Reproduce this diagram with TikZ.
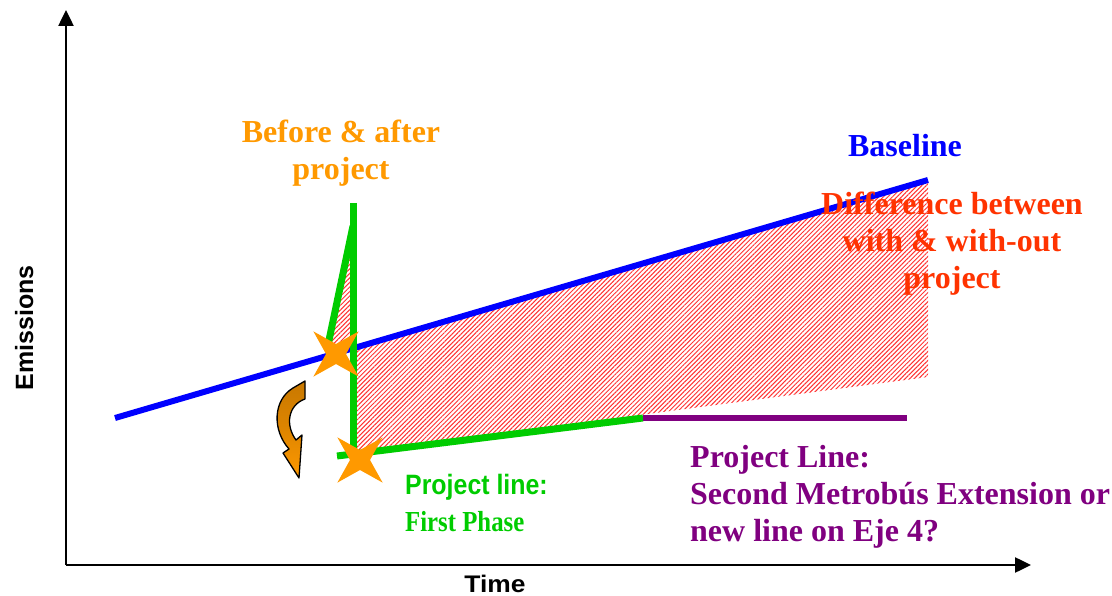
\documentclass[tikz,border=0pt]{standalone}
\usepackage{fontspec}
\setmainfont{Liberation Serif}
\newfontfamily\arialf{Liberation Sans}
\usetikzlibrary{arrows.meta,shapes.geometric,patterns.meta}
\definecolor{bblue}{RGB}{0,0,255}
\definecolor{ggreen}{RGB}{0,204,0}
\definecolor{ppurple}{RGB}{128,0,128}
\definecolor{oorange}{RGB}{255,153,0}
\definecolor{rred}{RGB}{255,51,0}
\definecolor{bbrown}{RGB}{200,120,0}
\definecolor{hatchred}{RGB}{255,50,50}
\begin{document}
\begin{tikzpicture}[x=1pt,y=-1pt,
  axisline/.style={line width=2.5pt,-{Triangle[length=16pt,width=15pt]}},
  hatcharea/.style={pattern={Lines[angle=45,distance=3.2pt,line width=1pt]},pattern color=hatchred},
  baseline line/.style={bblue,line width=6pt},
  greenline/.style={ggreen,line width=7pt},
  purpleline/.style={ppurple,line width=6pt},
  starmark/.style={star,star points=4,star point ratio=3.2,minimum size=64pt,inner sep=0pt,
    shape border rotate=45,fill=oorange,draw=none},
  bigtxt/.style={font=\fontsize{32}{37}\selectfont\bfseries,inner sep=0pt,align=center,anchor=base},
  axistxt/.style={font=\arialf\fontsize{25}{28}\selectfont\bfseries,inner sep=0pt,anchor=base}]
\useasboundingbox (0,0) rectangle (1112,596);
% coordinates
\coordinate (O) at (66,565);
\coordinate (ytip) at (66,10);
\coordinate (xtip) at (1031,565);
\coordinate (b0) at (115,418);
\coordinate (b1) at (928,180);
\coordinate (gv0) at (353,203);
\coordinate (gv1) at (353,452);
\coordinate (gs0) at (353,226);
\coordinate (gs1) at (328,345);
\coordinate (gb0) at (337,456);
\coordinate (gb1) at (643,418);
\coordinate (p1) at (907,418);
% hatched difference area
\fill[hatcharea] (330,347) -- (352,232) -- (352,349) -- cycle;
\fill[hatcharea] (352,349) -- (928,182) -- (928,377) -- (352,453) -- cycle;
% axes
\draw[axisline] (O) -- (ytip);
\draw[axisline] (O) -- (xtip);
% lines
\draw[baseline line] (b0) -- (b1);
\draw[greenline] (gs0) -- (gs1);
\draw[greenline] (gv0) -- (gv1);
\draw[greenline] (gb0) -- (gb1);
\draw[purpleline] (gb1) -- (p1);
% stars
\node[starmark] (star1) at (336,354) {};
\node[starmark] (star2) at (360,460) {};
% curved arrow
\shadedraw[top color=bbrown,bottom color=oorange,middle color=bbrown!60!oorange,draw=black,line width=1.3pt,line join=round]
  (293,388) -- (305,381) -- (305,399)
  .. controls (288,405) and (285,425) .. (296,440)
  -- (302,435) -- (299,478) -- (283,453) -- (289,449)
  .. controls (272,430) and (273,400) .. (293,388) -- cycle;
% texts (base anchor of a multi-line node = baseline of its last line)
\node[bigtxt,text=oorange] (before) at (341,180) {Before \& after\\project};
\node[bigtxt,text=bblue] (baselbl) at (905,157) {Baseline};
\node[bigtxt,text=rred] (diff) at (952,289) {Difference between\\with \& with-out\\project};
\node[bigtxt,text=ppurple,align=left,anchor=base west] (plbl) at (690,541) {Project Line:\\Second Metrobús Extension or\\new line on Eje 4?};
\node[font=\arialf\fontsize{28}{32}\selectfont\bfseries,text=ggreen,inner sep=0pt,anchor=base west,xscale=0.89] (gl1) at (405,494) {Project line:};
\node[font=\fontsize{29}{32}\selectfont\bfseries,text=ggreen,inner sep=0pt,anchor=base west,xscale=0.855] (gl2) at (405,531) {First Phase};
\node[axistxt,rotate=90] (ylbl) at (33,328) {Emissions};
\node[axistxt,font=\arialf\fontsize{24}{28}\selectfont\bfseries,xscale=1.1] (xlbl) at (495,592) {Time};
\end{tikzpicture}
\end{document}
